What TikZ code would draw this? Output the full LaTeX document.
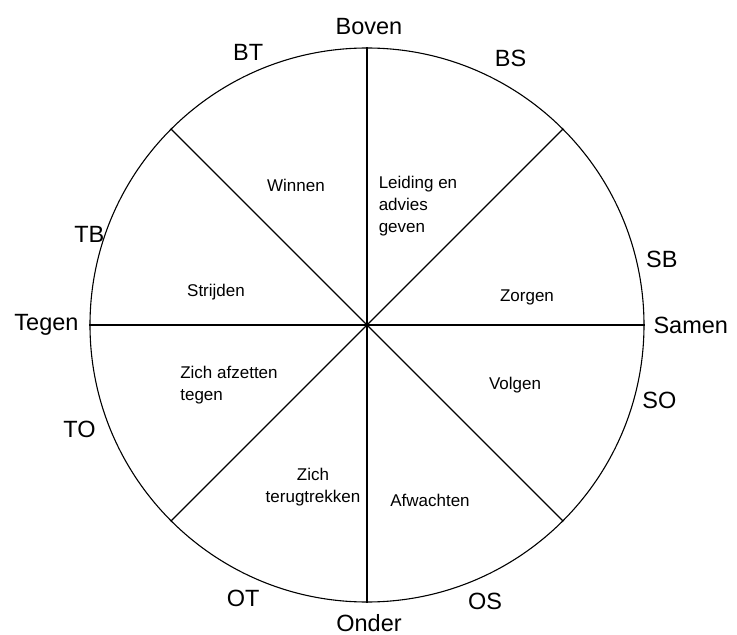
\documentclass[tikz,border=0pt]{standalone}
\usepackage{fontspec}
\setmainfont{Liberation Sans}
\usetikzlibrary{positioning}

\begin{document}
\begin{tikzpicture}[
    x=1pt, y=1pt,
    line width=1.1pt,
    rim/.style={draw, circle, inner sep=0pt, minimum size=554pt},
    pole/.style={inner sep=1pt, font=\fontsize{23.5}{27}\selectfont},
    sector/.style={inner sep=1pt, align=left, font=\fontsize{17}{22}\selectfont}
  ]
    \useasboundingbox (-367,-310) rectangle (370,325);

    %% --- Circle and its diameters ---
    \node[rim] (c) at (0,0) {};
    \draw (c.north) -- (c.south);
    \draw (c.west) -- (c.east);
    \draw (c.45) -- (c.225);
    \draw (c.135) -- (c.315);

    %% --- Labels round the rim ---
    \node[pole, anchor=base] (boven) at (2,290) {Boven};
    \node[pole, anchor=base] (onder) at (2,-306) {Onder};
    \node[pole, anchor=east] (tegen) at (180:287pt) {Tegen};
    \node[pole, anchor=west] (samen) at (0:285pt) {Samen};
    \node[pole] (bt) at (113.6:297pt) {BT};
    \node[pole] (bs) at (61.7:303pt) {BS};
    \node[pole] (tb) at (162:292pt) {TB};
    \node[pole] (sb) at (12.5:302pt) {SB};
    \node[pole] (to) at (200:306pt) {TO};
    \node[pole] (so) at (-14.5:302pt) {SO};
    \node[pole] (ot) at (245.6:300pt) {OT};
    \node[pole] (os) at (293.1:301pt) {OS};

    %% --- Texts in the sectors ---
    \node[sector] (winnen) at (-71,140) {Winnen};
    \node[sector] (leiding) at (51,119) {Leiding en\\advies\\geven};
    \node[sector] (strijden) at (-151,33) {Strijden};
    \node[sector] (zorgen) at (160,28) {Zorgen};
    \node[sector] (afzetten) at (-138,-60) {Zich afzetten\\tegen};
    \node[sector] (volgen) at (148,-60) {Volgen};
    \node[sector, align=center] (terug) at (-54,-162) {Zich\\terugtrekken};
    \node[sector] (afwachten) at (63,-175) {Afwachten};
\end{tikzpicture}
\end{document}
